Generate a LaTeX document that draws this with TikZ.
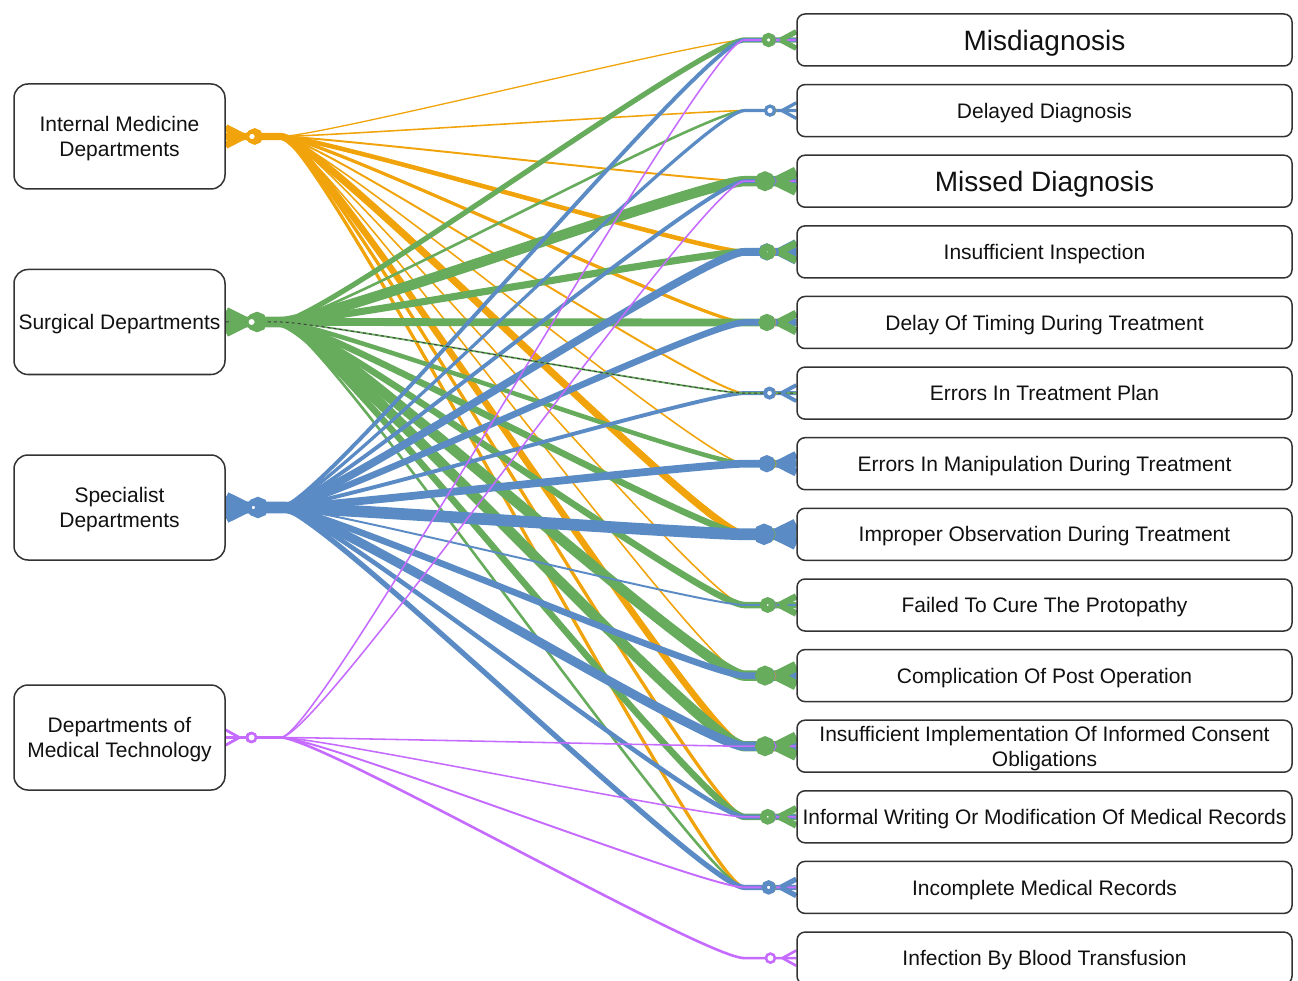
\documentclass[tikz,border=0pt]{standalone}
\usepackage{fontspec}
\setmainfont{Liberation Sans}
\usetikzlibrary{calc}
\definecolor{cO}{HTML}{F0A30A}
\definecolor{cG}{HTML}{67AB5C}
\definecolor{cB}{HTML}{5B8BC5}
\definecolor{cP}{HTML}{C66BFF}
\definecolor{boxc}{HTML}{333333}
\definecolor{txt}{HTML}{111111}
\pgfdeclarelayer{bg}
\pgfsetlayers{bg,main}
\tikzset{
  lbox/.style={draw=boxc, line width=1.5pt, rounded corners=14pt, fill=white,
    minimum width=211pt, minimum height=105pt, inner sep=0pt, align=center,
    font=\fontsize{21}{25}\selectfont, text=txt, text depth=0pt},
  rbox/.style={draw=boxc, line width=1.5pt, rounded corners=8pt, fill=white,
    minimum width=495pt, minimum height=52pt, inner sep=0pt, align=center,
    font=\fontsize{21}{25}\selectfont, text=txt, text depth=0pt},
  bigtext/.style={font=\fontsize{28}{32}\selectfont}
}
\def\edgelist{%
im/r1/cO/1,im/r2/cO/1.2,im/r3/cO/1.5,im/r4/cO/3.5,im/r5/cO/2.5,im/r6/cO/1.5,im/r7/cO/1.2,%
im/r8/cO/5.5,im/r9/cO/1.2,im/r10/cO/1.2,im/r11/cO/5,im/r12/cO/2.5,im/r13/cO/2.5,%
sur/r1/cG/4,sur/r2/cG/2,sur/r3/cG/8,sur/r4/cG/5.5,sur/r5/cG/6,sur/r7/cG/3.5,sur/r8/cG/5,%
sur/r9/cG/5,sur/r10/cG/8,sur/r11/cG/8,sur/r12/cG/5,sur/r13/cG/2,%
spe/r1/cB/3,spe/r2/cB/2.5,spe/r3/cB/3,spe/r4/cB/6,spe/r5/cB/5,spe/r6/cB/3,spe/r7/cB/6,%
spe/r8/cB/9,spe/r9/cB/1.5,spe/r10/cB/5,spe/r11/cB/7,spe/r12/cB/3.5,spe/r13/cB/4,%
mt/r1/cP/1.2,mt/r3/cP/1.2,mt/r11/cP/1.2,mt/r12/cP/1.2,mt/r13/cP/1.5,mt/r14/cP/2}
\def\rightlist{%
r1/cO/1,r2/cO/1.2,r3/cO/1.5,r4/cO/3.5,r5/cO/2.5,r6/cO/1.5,r7/cO/1.2,r8/cO/5.5,r9/cO/1.2,%
r10/cO/1.2,r11/cO/5,r12/cO/2.5,r13/cO/2.5,%
r1/cP/1.2,r3/cP/1.2,r11/cP/1.2,r12/cP/1.2,r13/cP/1.5,r14/cP/2,%
r1/cB/3,r3/cB/3,r4/cB/6,r5/cB/5,r9/cB/1.5,r10/cB/5,r11/cB/7,r12/cB/3.5,%
r2/cG/2,r7/cG/3.5,r8/cG/5,r13/cG/2,%
r1/cG/4,r3/cG/8,r4/cG/5.5,r5/cG/6,r9/cG/5,r10/cG/8,r11/cG/8,r12/cG/5,%
r2/cB/2.5,r6/cB/3,r7/cB/6,r8/cB/9,r13/cB/4}
\begin{document}
\begin{tikzpicture}[x=1pt,y=-1pt]
\useasboundingbox (0,0) rectangle (1298,981);
% left boxes
\node[lbox] (im)  at (119.5,136.5) {Internal Medicine\\Departments};
\node[lbox] (sur) at (119.5,322)   {Surgical Departments};
\node[lbox] (spe) at (119.5,507.5) {Specialist\\Departments};
\node[lbox] (mt)  at (119.5,737.5) {Departments of\\Medical Technology};
% right boxes
\node[rbox,bigtext] (r1) at (1044.5,40)    {Misdiagnosis};
\node[rbox] (r2)  at (1044.5,110.6) {Delayed Diagnosis};
\node[rbox,bigtext] (r3) at (1044.5,181.2) {Missed Diagnosis};
\node[rbox] (r4)  at (1044.5,251.9) {Insufficient Inspection};
\node[rbox] (r5)  at (1044.5,322.5) {Delay Of Timing During Treatment};
\node[rbox] (r6)  at (1044.5,393.1) {Errors In Treatment Plan};
\node[rbox] (r7)  at (1044.5,463.7) {Errors In Manipulation During Treatment};
\node[rbox] (r8)  at (1044.5,534.3) {Improper Observation During Treatment};
\node[rbox] (r9)  at (1044.5,605)   {Failed To Cure The Protopathy};
\node[rbox] (r10) at (1044.5,675.6) {Complication Of Post Operation};
\node[rbox] (r11) at (1044.5,746.2) {Insufficient Implementation Of Informed Consent\\Obligations};
\node[rbox] (r12) at (1044.5,816.8) {Informal Writing Or Modification Of Medical Records};
\node[rbox] (r13) at (1044.5,887.4) {Incomplete Medical Records};
\node[rbox] (r14) at (1044.5,958.1) {Infection By Blood Transfusion};
\begin{pgfonlayer}{bg}
% connectors
\foreach \s/\t/\c/\w in \edgelist {
  \pgfmathsetmacro\lw{1.3*\w}
  \draw[draw=\c, line width=\lw pt] (\s.east) -- ++(55,0)
    .. controls +(40,0) and +(-40,0) .. ($(\t.west)+(-52,0)$) -- (\t.west);
}
% dashed connector
\draw[draw=cG, line width=1.8pt] (sur.east) -- ++(55,0)
    .. controls +(40,0) and +(-40,0) .. ($(r6.west)+(-52,0)$) -- (r6.west);
\draw[draw=black!75, line width=1pt, dash pattern=on 3pt off 3pt] (sur.east) -- ++(55,0)
    .. controls +(40,0) and +(-40,0) .. ($(r6.west)+(-52,0)$) -- (r6.west);
% left end markers
\foreach \s/\t/\c/\w in \edgelist {
  \pgfmathsetmacro\lw{1.3*\w}
  \pgfmathsetmacro\mka{12+0.7*\lw}
  \pgfmathsetmacro\mks{7+0.25*\lw}
  \pgfmathsetmacro\mkc{24+0.7*\lw}
  \draw[draw=\c, line width=\lw pt, line join=round]
    ($(\s.east)+(\mka,0)$) -- ($(\s.east)+(0,\mks)$)
    ($(\s.east)+(\mka,0)$) -- ($(\s.east)+(0,-\mks)$);
  \draw[draw=\c, line width=\lw pt, fill=white] ($(\s.east)+(\mkc,0)$) circle[radius=4.5pt];
}
% right end markers
\foreach \t/\c/\w in \rightlist {
  \pgfmathsetmacro\lw{1.3*\w}
  \pgfmathsetmacro\mka{12+0.7*\lw}
  \pgfmathsetmacro\mks{7+0.25*\lw}
  \pgfmathsetmacro\mkc{24+0.7*\lw}
  \draw[draw=\c, line width=\lw pt, line join=round]
    ($(\t.west)+(-\mka,0)$) -- ($(\t.west)+(0,\mks)$)
    ($(\t.west)+(-\mka,0)$) -- ($(\t.west)+(0,-\mks)$);
  \draw[draw=\c, line width=\lw pt, fill=white] ($(\t.west)+(-\mkc,0)$) circle[radius=4.5pt];
}
\end{pgfonlayer}
\end{tikzpicture}
\end{document}
